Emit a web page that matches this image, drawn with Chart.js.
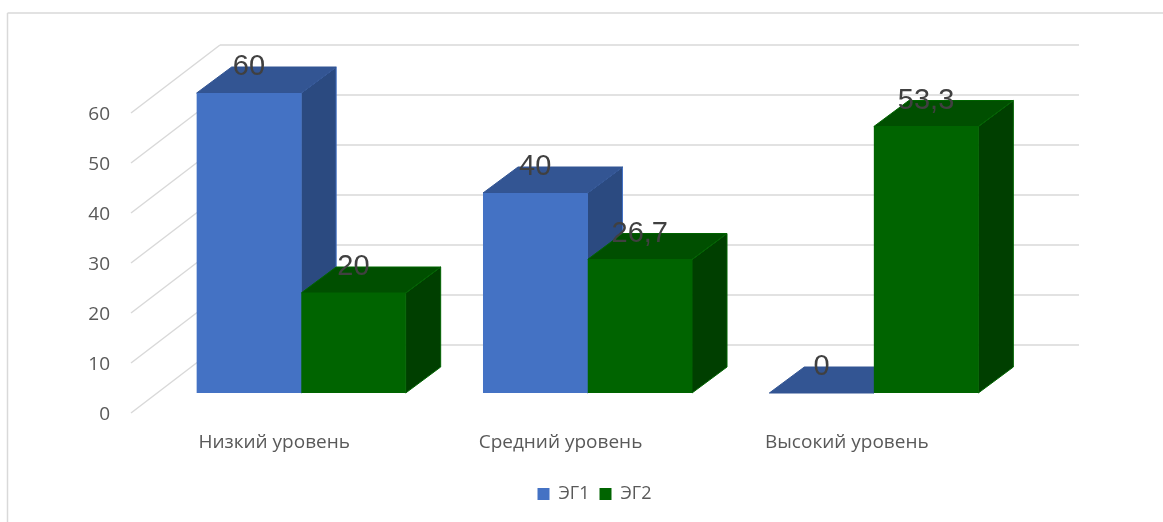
<!DOCTYPE html>
<html>
<head>
<meta charset="utf-8">
<style>
  html, body { margin: 0; background: #fff; }
  canvas { display: block; }
</style>
<script src="https://cdn.jsdelivr.net/npm/chart.js@4/dist/chart.umd.min.js"></script>
</head>
<body>
<canvas id="levels-chart" width="1163" height="522"></canvas>
<script>
const LEVELS = ["Низкий уровень", "Средний уровень", "Высокий уровень"];
const EG1 = [60, 40, 0];
const EG2 = [20, 26.7, 53.3];
const Y_TICKS = [0, 10, 20, 30, 40, 50, 60];

const BLUE = "#4472C4";
const BLUE_TOP = "#335593";
const BLUE_SIDE = "#2B4A80";
const GREEN = "#006400";
const GREEN_TOP = "#004F00";
const GREEN_SIDE = "#003F00";
const GRID = "#D9D9D9";

// bar depth
const DEPTH_X = 35;
const DEPTH_Y = 26;
// floor: how far the front edge and back wall sit from the plane of the bars
const FRONT_X = 27;
const FRONT_Y = 20;
const WALL_X = 62;
const WALL_Y = 48;

function polygon(ctx, points, fill, edge) {
  ctx.beginPath();
  points.forEach((p, i) => i ? ctx.lineTo(p[0], p[1]) : ctx.moveTo(p[0], p[1]));
  ctx.closePath();
  ctx.fillStyle = fill;
  ctx.fill();
  ctx.strokeStyle = edge;
  ctx.lineWidth = 1;
  ctx.stroke();
}

function line(ctx, x1, y1, x2, y2) {
  ctx.beginPath();
  ctx.moveTo(x1, y1);
  ctx.lineTo(x2, y2);
  ctx.stroke();
}

const frame = {
  id: "frame",
  beforeDraw(chart) {
    const ctx = chart.ctx;
    ctx.save();
    ctx.strokeStyle = GRID;
    ctx.lineWidth = 1.5;
    line(ctx, 7.5, 13, chart.width, 13);
    line(ctx, 7.5, 13, 7.5, chart.height);
    ctx.restore();
  }
};

const walls = {
  id: "walls",
  beforeDatasetsDraw(chart) {
    const ctx = chart.ctx;
    const { x, y } = chart.scales;
    ctx.save();
    ctx.strokeStyle = GRID;
    ctx.lineWidth = 1.5;
    for (const value of Y_TICKS) {
      const py = y.getPixelForValue(value);
      line(ctx, x.left - FRONT_X, py + FRONT_Y, x.left + WALL_X, py - WALL_Y);
      line(ctx, x.left + WALL_X, py - WALL_Y, x.right + WALL_X, py - WALL_Y);
    }
    ctx.restore();
  }
};

// top and side faces go under the library's bars, so a green front hides the blue side
const depthFaces = {
  id: "depthFaces",
  beforeDatasetsDraw(chart) {
    const ctx = chart.ctx;
    const colors = [[BLUE_TOP, BLUE_SIDE, BLUE], [GREEN_TOP, GREEN_SIDE, GREEN]];
    ctx.save();
    chart.data.datasets.forEach((ds, d) => {
      const [top, side, edge] = colors[d];
      chart.getDatasetMeta(d).data.forEach(bar => {
        const left = bar.x - bar.width / 2;
        const right = bar.x + bar.width / 2;
        polygon(ctx, [[right, bar.y], [right + DEPTH_X, bar.y - DEPTH_Y],
          [right + DEPTH_X, bar.base - DEPTH_Y], [right, bar.base]], side, edge);
        polygon(ctx, [[left, bar.y], [left + DEPTH_X, bar.y - DEPTH_Y],
          [right + DEPTH_X, bar.y - DEPTH_Y], [right, bar.y]], top, d ? edge : top);
      });
    });
    ctx.restore();
  }
};

const valueLabels = {
  id: "valueLabels",
  afterDatasetsDraw(chart) {
    const ctx = chart.ctx;
    ctx.save();
    ctx.font = '29px "Liberation Sans"';
    ctx.fillStyle = "#404040";
    ctx.textAlign = "center";
    ctx.textBaseline = "middle";
    chart.data.datasets.forEach((ds, d) => {
      chart.getDatasetMeta(d).data.forEach((bar, i) => {
        ctx.fillText(String(ds.data[i]).replace(".", ","), bar.x, bar.y - DEPTH_Y);
      });
    });
    ctx.restore();
  }
};

// the legend is centred under the whole floor, not the plane of the bars
const legendShift = {
  id: "legendShift",
  afterLayout(chart) {
    chart.legend.left += 86;
    chart.legend.right += 86;
  }
};

new Chart("levels-chart", {
  type: "bar",
  data: {
    labels: LEVELS,
    datasets: [
      { label: "ЭГ1", data: EG1, backgroundColor: BLUE },
      { label: "ЭГ2", data: EG2, backgroundColor: GREEN }
    ]
  },
  options: {
    responsive: false,
    animation: false,
    events: [],
    barPercentage: 1,
    categoryPercentage: 0.73,
    layout: { padding: { top: 93, right: 146, bottom: 9, left: 0 } },
    scales: {
      x: {
        grid: { display: false },
        border: { display: false },
        afterFit: scale => { scale.height = 82; },
        ticks: {
          color: "#595959",
          font: { family: "Open Sans", size: 19 },
          padding: 30,
          labelOffset: -FRONT_X,
          maxRotation: 0
        }
      },
      y: {
        min: 0,
        max: 60,
        grid: { display: false },
        border: { display: false },
        afterFit: scale => { scale.width = 158; },
        afterBuildTicks: scale => { scale.ticks = Y_TICKS.map(value => ({ value })); },
        ticks: {
          color: "#595959",
          font: { family: "Open Sans", size: 19 },
          padding: 40,
          labelOffset: FRONT_Y + 2
        }
      }
    },
    plugins: {
      tooltip: { enabled: false },
      legend: {
        position: "bottom",
        labels: {
          color: "#595959",
          font: { family: "Open Sans", size: 18 },
          boxWidth: 12,
          boxHeight: 12,
          padding: 10
        }
      }
    }
  },
  plugins: [frame, walls, depthFaces, valueLabels, legendShift]
});
</script>
</body>
</html>
